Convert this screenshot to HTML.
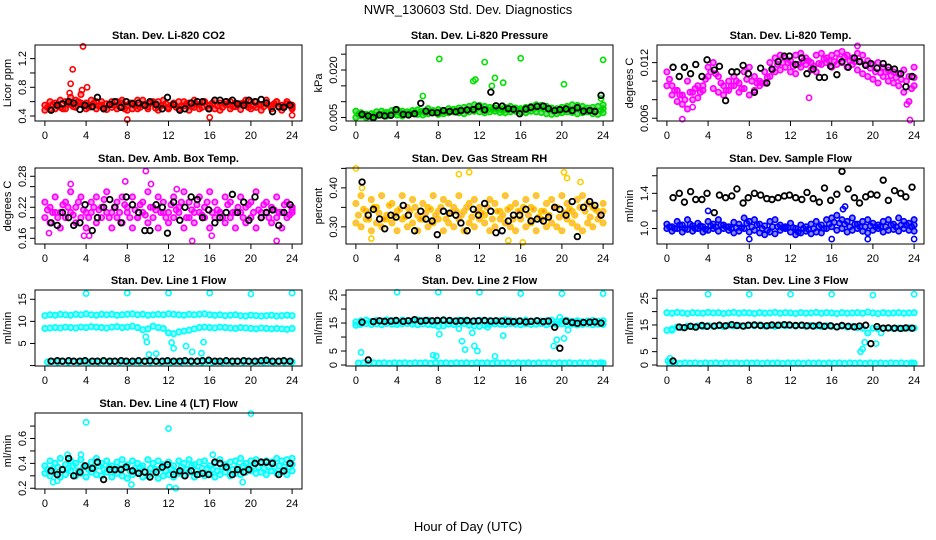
<!DOCTYPE html>
<html><head><meta charset="utf-8"><title>NWR_130603 Std. Dev. Diagnostics</title>
<style>
html,body{margin:0;padding:0;background:#fff;}
svg{display:block;font-family:"Liberation Sans",Arial,sans-serif;}
</style></head>
<body>
<svg id="chart" width="936" height="540" viewBox="0 0 936 540">
<text x="468" y="14" text-anchor="middle" font-size="13">NWR_130603 Std. Dev. Diagnostics</text>
<text x="468" y="531" text-anchor="middle" font-size="13">Hour of Day (UTC)</text>
</svg>
<script>
const blackHours=[0.6,1.2,1.7,2.3,2.8,3.4,3.9,4.6,5.1,5.7,6.3,6.8,7.4,7.9,8.5,9.1,9.7,10.2,10.8,11.4,11.9,12.5,13.1,13.6,14.2,14.8,15.3,15.9,16.5,17.0,17.6,18.2,18.7,19.3,19.8,20.4,21.0,21.5,22.1,22.7,23.2,23.8];
const xTicks=[0,4,8,12,16,20,24];

// CO2
const co2BandA=[0.55,0.5,0.58,0.52,0.6,0.56,0.62,0.7,0.58,0.53,0.6,0.55,0.57,0.52,0.6,0.58,0.55,0.5,0.62,0.56,0.53,0.58,0.6,0.55,0.52,0.57,0.6,0.54,0.58,0.52,0.56,0.6,0.55,0.5,0.58,0.56,0.6,0.53,0.57,0.55,0.6,0.52,0.56,0.58,0.54,0.6,0.55,0.57,0.52];
const co2BandB=[0.48,0.6,0.5,0.62,0.5,0.66,0.52,0.58,0.5,0.62,0.5,0.6,0.49,0.6,0.5,0.62,0.48,0.58,0.5,0.62,0.5,0.6,0.48,0.62,0.5,0.58,0.5,0.6,0.48,0.62,0.5,0.6,0.5,0.62,0.48,0.6,0.5,0.58,0.49,0.62,0.5,0.6,0.48,0.62,0.5,0.6,0.48,0.6,0.5];
const co2BandM=[0.52,0.56,0.54,0.5,0.57,0.53,0.6,0.55,0.52,0.58,0.54,0.51,0.56,0.55,0.53,0.5,0.58,0.54,0.52,0.55,0.58,0.51,0.54,0.57,0.55,0.52,0.54,0.57,0.53,0.56,0.52,0.55,0.58,0.54,0.52,0.56,0.53,0.55,0.58,0.52,0.54,0.56,0.53,0.55,0.57,0.52,0.54,0.56,0.55];
const co2OutHours=[2.5,2.7,2.4,3.7,4.1,8.0,16.0,24,3.6];
const co2OutValues=[0.85,1.05,0.72,1.37,0.8,0.35,0.38,0.41,0.76];
const co2Black=[0.48,0.55,0.57,0.6,0.58,0.49,0.55,0.53,0.66,0.5,0.56,0.6,0.52,0.6,0.57,0.58,0.55,0.6,0.56,0.5,0.66,0.56,0.48,0.5,0.58,0.6,0.6,0.5,0.62,0.62,0.6,0.62,0.57,0.55,0.62,0.6,0.63,0.58,0.46,0.53,0.52,0.55];

// Pressure
const prBandA=[0.007,0.0065,0.006,0.0062,0.0068,0.007,0.0066,0.0072,0.0075,0.007,0.0068,0.0072,0.0074,0.007,0.0078,0.0072,0.0075,0.0072,0.0078,0.0076,0.008,0.0082,0.0085,0.009,0.0088,0.0085,0.0082,0.008,0.0078,0.0082,0.0085,0.008,0.0078,0.0082,0.0085,0.009,0.0088,0.0085,0.008,0.0078,0.0082,0.0085,0.009,0.0088,0.0085,0.008,0.0082,0.0085,0.009];
const prBandB=[0.005,0.0055,0.005,0.0052,0.0055,0.0058,0.0055,0.006,0.0058,0.0055,0.006,0.0062,0.006,0.0058,0.0062,0.0065,0.006,0.0062,0.0065,0.0068,0.0065,0.0062,0.0068,0.007,0.0068,0.0065,0.0068,0.007,0.0066,0.0065,0.0068,0.007,0.0068,0.0065,0.007,0.0068,0.0066,0.0062,0.006,0.0062,0.0065,0.0068,0.0066,0.0062,0.0065,0.0068,0.0062,0.006,0.0065];
const prBandM=[0.006,0.006,0.0055,0.0058,0.006,0.0063,0.006,0.0066,0.0066,0.0062,0.0064,0.0067,0.0067,0.0064,0.007,0.0068,0.0068,0.0067,0.0071,0.0072,0.0072,0.0072,0.0076,0.008,0.0078,0.0075,0.0075,0.0075,0.0072,0.0074,0.0076,0.0075,0.0073,0.0074,0.0078,0.0079,0.0077,0.0074,0.007,0.007,0.0074,0.0076,0.0078,0.0075,0.0075,0.0074,0.0072,0.0072,0.0078];
const prOutHours=[8.1,12.5,16,24,11.4,11.6,13.5,13.2,14.3,6.5,20.2,23.8];
const prOutValues=[0.0235,0.0225,0.0237,0.0232,0.0165,0.017,0.0175,0.015,0.016,0.0118,0.0155,0.011];
const prBlack=[0.006,0.0055,0.005,0.0058,0.0055,0.0057,0.0075,0.006,0.0058,0.0062,0.0095,0.007,0.0065,0.0065,0.0072,0.0069,0.0068,0.0072,0.0074,0.0075,0.0085,0.0074,0.013,0.0087,0.0086,0.0078,0.0076,0.0062,0.0077,0.0082,0.0085,0.0086,0.0078,0.0072,0.0075,0.0077,0.0072,0.0081,0.007,0.0072,0.0069,0.012];

// Li-820 Temp
const tpBandA=[0.011,0.0095,0.009,0.0085,0.01,0.008,0.0095,0.009,0.0115,0.012,0.0105,0.0095,0.01,0.0105,0.0098,0.011,0.0115,0.0105,0.0095,0.011,0.012,0.0125,0.0128,0.0125,0.0122,0.0128,0.013,0.0125,0.012,0.0128,0.013,0.0125,0.0128,0.013,0.0132,0.0128,0.0125,0.013,0.0128,0.0122,0.0118,0.012,0.0115,0.0112,0.011,0.0108,0.0112,0.0105,0.0115];
const tpBandB=[0.0095,0.0085,0.0078,0.0075,0.007,0.0088,0.0082,0.0095,0.0105,0.0092,0.0088,0.0085,0.009,0.0095,0.0088,0.0092,0.0085,0.009,0.01,0.0098,0.0105,0.011,0.0112,0.0115,0.011,0.0108,0.0115,0.0118,0.0112,0.011,0.0118,0.012,0.0115,0.0118,0.012,0.0115,0.0118,0.0112,0.0108,0.0105,0.0102,0.0098,0.0105,0.01,0.0098,0.0095,0.0088,0.0078,0.0095];
const tpBandM=[0.0102,0.009,0.0085,0.008,0.0088,0.0092,0.0088,0.0102,0.011,0.0108,0.0098,0.009,0.0095,0.01,0.0092,0.0102,0.01,0.0098,0.0098,0.0104,0.0112,0.0118,0.012,0.012,0.0116,0.0118,0.0122,0.0122,0.0116,0.0119,0.0124,0.0122,0.0121,0.0124,0.0126,0.0122,0.0121,0.0121,0.0118,0.0114,0.011,0.0109,0.011,0.0106,0.0104,0.0102,0.01,0.0092,0.0104];
const tpOutHours=[1.5,23.6,2.5,13.8,18.5,23.3];
const tpOutValues=[0.0059,0.0058,0.0072,0.0082,0.0138,0.0075];
const tpBlack=[0.0115,0.0105,0.0115,0.0108,0.0118,0.0105,0.0123,0.0112,0.0116,0.0079,0.011,0.011,0.0117,0.0108,0.0088,0.0114,0.0098,0.0113,0.0121,0.0127,0.0127,0.0118,0.0125,0.0108,0.0113,0.0104,0.0104,0.0116,0.0107,0.0121,0.0115,0.0125,0.0121,0.0117,0.0119,0.0114,0.0119,0.0115,0.0113,0.0108,0.0094,0.0105];

// Amb box temp
const abBandA=[0.23,0.22,0.24,0.21,0.23,0.25,0.22,0.24,0.21,0.23,0.24,0.22,0.25,0.21,0.23,0.24,0.22,0.24,0.2,0.23,0.25,0.22,0.24,0.23,0.21,0.24,0.22,0.25,0.23,0.21,0.24,0.22,0.25,0.23,0.21,0.24,0.23,0.21,0.24,0.22,0.23,0.25,0.21,0.23,0.22,0.24,0.21,0.23,0.22];
const abBandB=[0.2,0.19,0.21,0.18,0.2,0.21,0.19,0.2,0.18,0.21,0.19,0.2,0.21,0.18,0.2,0.19,0.21,0.18,0.2,0.21,0.19,0.2,0.18,0.21,0.19,0.2,0.21,0.18,0.2,0.19,0.21,0.2,0.18,0.2,0.21,0.19,0.2,0.18,0.21,0.19,0.2,0.18,0.2,0.21,0.19,0.2,0.18,0.2,0.21];
const abBandM=[0.215,0.21,0.2,0.225,0.22,0.205,0.23,0.215,0.2,0.22,0.215,0.235,0.2,0.22,0.21,0.225,0.2,0.215,0.225,0.205,0.22,0.215,0.21,0.2,0.225,0.215,0.23,0.2,0.215,0.225,0.205,0.23,0.21,0.215,0.2,0.225,0.21,0.22,0.2,0.225,0.21,0.215,0.225,0.2,0.215,0.21,0.225,0.205,0.215];
const abOutHours=[0.4,4.3,7.8,9.8,10.3,14.3,16.2,22.5,3.8,2.5,12.8];
const abOutValues=[0.17,0.165,0.27,0.29,0.265,0.155,0.165,0.155,0.165,0.265,0.255];
const abBlack=[0.19,0.185,0.21,0.2,0.185,0.19,0.225,0.175,0.2,0.22,0.235,0.22,0.19,0.24,0.225,0.21,0.175,0.175,0.225,0.22,0.17,0.23,0.195,0.22,0.24,0.235,0.2,0.215,0.19,0.2,0.21,0.245,0.21,0.23,0.195,0.24,0.2,0.21,0.215,0.185,0.21,0.225];

// Gas stream RH
const rhBandA=[0.36,0.38,0.34,0.37,0.35,0.38,0.33,0.36,0.34,0.38,0.35,0.37,0.33,0.36,0.35,0.38,0.34,0.37,0.36,0.35,0.38,0.34,0.36,0.37,0.35,0.33,0.37,0.36,0.34,0.38,0.35,0.36,0.34,0.37,0.35,0.38,0.34,0.36,0.37,0.35,0.38,0.36,0.34,0.37,0.38,0.36,0.35,0.34,0.36];
const rhBandB=[0.31,0.3,0.32,0.29,0.31,0.3,0.32,0.31,0.29,0.32,0.3,0.31,0.29,0.32,0.3,0.31,0.32,0.29,0.31,0.3,0.32,0.29,0.31,0.3,0.32,0.31,0.29,0.3,0.32,0.31,0.3,0.29,0.32,0.3,0.31,0.29,0.32,0.3,0.31,0.3,0.29,0.32,0.31,0.3,0.29,0.31,0.3,0.32,0.31];
const rhBandM=[0.33,0.345,0.32,0.35,0.335,0.32,0.355,0.33,0.345,0.325,0.34,0.35,0.32,0.335,0.345,0.33,0.35,0.32,0.335,0.34,0.33,0.35,0.325,0.34,0.335,0.35,0.32,0.34,0.33,0.345,0.32,0.34,0.35,0.33,0.345,0.325,0.34,0.33,0.35,0.325,0.335,0.345,0.33,0.35,0.34,0.325,0.345,0.33,0.34];
const rhOutHours=[0,10,11,20.2,20.5,14.8,16.2,21.8,0.6,1.5];
const rhOutValues=[0.45,0.435,0.44,0.44,0.425,0.265,0.26,0.415,0.4,0.27];
const rhBlack=[0.415,0.33,0.345,0.32,0.295,0.33,0.325,0.355,0.33,0.29,0.34,0.32,0.315,0.28,0.34,0.335,0.33,0.31,0.29,0.345,0.33,0.36,0.34,0.285,0.29,0.315,0.33,0.33,0.345,0.315,0.32,0.315,0.325,0.35,0.345,0.33,0.365,0.275,0.35,0.365,0.355,0.33];

// Sample flow
const sfBandA=[1.05,1.02,1.08,1.04,1.1,1.03,1.06,1.02,1.08,1.05,1.1,1.04,1.02,1.07,1.05,1.12,1.08,1.1,1.05,1.03,1.08,1.1,1.04,1.02,1.06,1.0,1.04,1.02,1.05,1.08,1.04,1.1,1.12,1.15,1.1,1.08,1.12,1.05,1.08,1.1,1.06,1.04,1.08,1.1,1.05,1.12,1.08,1.06,1.1];
const sfBandB=[1.0,0.97,1.0,0.96,0.99,0.97,1.0,0.96,0.98,1.0,0.97,1.0,0.98,0.95,0.97,1.0,0.96,0.98,0.95,0.93,0.96,0.94,0.98,1.0,0.96,0.93,0.95,0.97,0.94,0.96,0.95,1.0,1.02,0.98,1.0,0.96,0.98,1.0,0.97,0.95,0.98,1.0,0.96,0.98,0.99,0.97,1.0,0.98,0.97];
const sfBandM=[1.02,1.0,1.04,1.0,1.05,1.0,1.03,0.99,1.03,1.02,1.04,1.02,1.0,1.01,1.01,1.06,1.02,1.04,1.0,0.98,1.02,1.02,1.01,1.01,1.01,0.96,1.0,0.99,1.0,1.02,1.0,1.05,1.07,1.06,1.05,1.02,1.05,1.02,1.02,1.03,1.02,1.02,1.02,1.04,1.02,1.04,1.04,1.02,1.04];
const sfOutHours=[4,8,16,17.3,19.5,24,17.1];
const sfOutValues=[1.2,0.88,0.88,1.25,0.88,0.88,1.22];
const sfBlack=[1.35,1.4,1.3,1.42,1.33,1.33,1.4,1.18,1.38,1.35,1.37,1.45,1.29,1.35,1.4,1.38,1.34,1.33,1.35,1.37,1.38,1.35,1.33,1.41,1.34,1.3,1.46,1.32,1.39,1.65,1.45,1.35,1.29,1.36,1.39,1.38,1.55,1.32,1.43,1.4,1.36,1.47];

// Line 1 flow
const l1BandA=[11.3,11.5,11.4,11.6,11.5,11.4,11.6,11.5,11.7,11.5,11.4,11.6,11.5,11.6,11.4,11.5,11.6,11.7,11.5,11.6,11.4,11.5,11.6,11.5,11.7,11.6,11.5,11.4,11.6,11.5,11.6,11.7,11.5,11.4,11.5,11.3,11.4,11.5,11.3,11.2,11.4,11.3,11.2,11.3,11.4,11.2,11.3,11.4,11.3];
const l1BandB=[8.4,8.5,8.6,8.5,8.7,8.6,8.5,8.7,8.6,8.8,8.7,8.6,8.5,8.7,8.8,8.6,8.7,8.9,8.6,8.1,8.3,8.9,8.6,8.4,7.4,7.2,7.6,7.8,8.0,8.3,8.6,8.7,8.6,8.5,8.7,8.6,8.5,8.4,8.6,8.5,8.4,8.3,8.5,8.4,8.3,8.4,8.3,8.2,8.4];
const l1BandC=[0.8,0.9,0.8,0.9,0.8,0.9,0.8,0.9,0.8,0.9,0.8,0.9,0.8,0.9,0.8,0.9,0.8,0.9,0.8,0.9,0.8,0.9,0.8,0.9,0.8,0.9,0.8,0.9,0.8,0.9,0.8,0.9,0.8,0.9,0.8,0.9,0.8,0.9,0.8,0.9,0.8,0.9,0.8,0.9,0.8,0.9,0.8,0.9,0.8];
const l1OutHours=[4,8,12,16,20,24,9.8,10.1,10.8,12.3,12.5,13.7,14.3,15.2,15.4,9.9];
const l1OutValues=[16.3,16.4,16.4,16.4,16.2,16.4,6.5,2.5,2.7,5.2,3.9,4.4,3.1,2.8,5.3,5.3];
const l1Black=[1.0,1.1,1.0,1.1,1.0,1.0,1.1,1.0,1.0,1.1,1.0,1.0,1.1,1.0,1.0,1.1,1.0,1.1,1.0,1.0,1.1,1.0,1.0,1.1,1.0,1.0,1.1,1.2,1.0,1.0,1.1,1.0,1.0,1.1,1.0,1.0,1.1,1.2,1.0,1.0,1.1,1.0];

// Line 2 flow
const l2BandA=[15.4,15.8,16.0,15.6,15.9,15.7,16.1,15.8,15.6,16.0,15.9,15.7,16.1,15.8,16.0,15.6,15.9,16.2,15.8,15.7,16.0,15.9,15.6,15.8,16.0,15.7,15.9,15.6,15.8,16.1,15.9,15.7,15.8,16.0,15.6,15.9,15.7,15.8,16.0,15.5,15.7,15.9,15.6,15.8,15.5,15.7,15.9,15.6,15.8];
const l2BandB=[14.2,14.6,14.8,14.5,14.7,14.4,14.8,14.6,14.5,14.7,14.8,14.6,14.4,14.7,14.5,14.3,13.8,14.0,14.6,14.5,14.7,14.8,14.2,14.0,13.8,14.2,14.5,14.7,14.6,14.5,14.8,14.6,14.4,14.7,14.5,14.6,14.8,14.4,14.6,14.5,14.7,14.4,14.6,14.3,14.5,14.7,14.4,14.6,14.5];
const l2BandC=[0.7,0.8,0.6,0.8,0.7,0.8,0.6,0.8,0.7,0.8,0.6,0.8,0.7,0.8,0.6,0.8,0.7,0.8,0.6,0.8,0.7,0.8,0.6,0.8,0.7,0.8,0.6,0.8,0.7,0.8,0.6,0.8,0.7,0.8,0.6,0.8,0.7,0.8,0.6,0.8,0.7,0.8,0.6,0.8,0.7,0.8,0.6,0.8,0.7];
const l2OutHours=[4,8,12,16,20,24,0.5,0.4,8.1,7.5,7.8,10,10.3,10.6,11.5,11.8,11.3,13.5,14.3,19.2,19.5,19.8,20.2,20.4,20.6,12.8];
const l2OutValues=[26,26,26,25.5,25.5,25.5,4.5,14.5,11,3.5,3.2,13,8.5,5.5,6.8,5,11.5,3.1,10.5,6.8,9,17,9.5,16,12.5,13.5];
const l2Black=[15.3,1.8,15.5,15.8,15.6,15.7,15.9,15.6,15.8,16.2,15.7,15.9,15.8,15.9,16,15.9,15.7,15.8,15.9,15.7,15.8,15.9,15.7,15.8,15.7,15.6,15.5,15.7,15.4,15.6,15.8,15.5,15.7,13.5,6.0,15.6,15.2,14.9,15.2,15.3,15.4,15.0];

// Line 3 flow
const l3BandA=[19.6,19.4,19.7,19.5,19.3,19.6,19.5,19.4,19.7,19.5,19.6,19.3,19.5,19.7,19.4,19.6,19.5,19.3,19.6,19.4,19.5,19.7,19.4,19.6,19.5,19.3,19.6,19.4,19.5,19.7,19.4,19.6,19.5,19.3,19.6,19.4,19.5,19.6,19.4,19.8,19.5,19.3,19.6,19.4,19.5,19.6,19.4,19.5,19.6];
const l3BandB=[13.0,13.5,14.2,14.0,14.5,14.3,14.6,14.4,14.8,14.5,14.7,14.4,14.9,14.6,14.8,14.5,14.9,14.7,15.0,14.6,14.8,14.5,14.9,14.7,14.8,14.6,14.9,14.5,14.8,14.6,14.4,14.7,14.5,14.3,14.6,14.2,14.4,14.0,13.8,12.0,13.8,13.5,13.7,13.9,13.6,13.8,13.7,13.9,13.8];
const l3BandC=[0.7,0.8,0.6,0.8,0.7,0.8,0.6,0.8,0.7,0.8,0.6,0.8,0.7,0.8,0.6,0.8,0.7,0.8,0.6,0.8,0.7,0.8,0.6,0.8,0.7,0.8,0.6,0.8,0.7,0.8,0.6,0.8,0.7,0.8,0.6,0.8,0.7,0.8,0.6,0.8,0.7,0.8,0.6,0.8,0.7,0.8,0.6,0.8,0.7];
const l3OutHours=[4,8,12,16,20,24,0.3,0.5,18.8,19.0,19.2,20.3,20.8,0.1];
const l3OutValues=[26.5,26.5,26.5,26.5,26.2,26.5,2.5,13,5,6,8.5,8,12,1.5];
const l3Black=[1.5,14.2,14.0,14.5,14.2,14.8,14.5,14.6,14.9,14.7,15.1,14.8,14.6,14.9,15.0,14.8,14.7,15.0,14.9,15.1,15.0,14.8,14.9,14.7,14.6,14.9,14.5,14.7,14.3,14.8,14.5,14.3,14.6,14.9,8.0,14.4,13.8,13.9,13.8,13.7,13.9,13.8];

// Line 4 flow
const l4BandA=[0.38,0.42,0.4,0.44,0.39,0.42,0.4,0.43,0.38,0.41,0.44,0.4,0.42,0.38,0.41,0.43,0.39,0.42,0.4,0.38,0.43,0.4,0.42,0.39,0.41,0.38,0.42,0.4,0.43,0.39,0.41,0.42,0.38,0.4,0.43,0.39,0.41,0.42,0.44,0.4,0.42,0.43,0.4,0.42,0.41,0.44,0.42,0.43,0.44];
const l4BandB=[0.32,0.3,0.33,0.29,0.31,0.34,0.3,0.32,0.29,0.33,0.31,0.3,0.33,0.29,0.32,0.3,0.28,0.31,0.33,0.29,0.3,0.32,0.28,0.3,0.31,0.29,0.32,0.3,0.33,0.29,0.31,0.3,0.32,0.29,0.31,0.33,0.3,0.32,0.31,0.33,0.34,0.32,0.33,0.31,0.34,0.32,0.33,0.31,0.34];
const l4BandM=[0.35,0.36,0.37,0.35,0.36,0.38,0.34,0.37,0.35,0.36,0.38,0.35,0.37,0.34,0.36,0.37,0.34,0.36,0.37,0.33,0.36,0.35,0.36,0.34,0.36,0.33,0.37,0.35,0.38,0.34,0.36,0.36,0.35,0.34,0.37,0.36,0.35,0.37,0.38,0.36,0.38,0.37,0.36,0.37,0.37,0.38,0.37,0.37,0.39];
const l4OutHours=[4,12,20,0.8,8.4,12.1,12.7,16.3,3.5,2.2,1.2,19.2];
const l4OutValues=[0.73,0.68,0.8,0.25,0.23,0.21,0.2,0.47,0.47,0.47,0.26,0.25];
const l4Black=[0.34,0.31,0.35,0.44,0.3,0.33,0.38,0.36,0.41,0.27,0.35,0.35,0.35,0.37,0.34,0.32,0.33,0.29,0.33,0.37,0.39,0.31,0.34,0.3,0.34,0.31,0.32,0.31,0.41,0.4,0.37,0.31,0.35,0.33,0.35,0.4,0.41,0.41,0.4,0.31,0.34,0.4];

// Tick values
const co2Ticks=[0.4,0.6,0.8,1.0,1.2], co2Labels=["0.4","","0.8","","1.2"];
const prTicks=[0.005,0.010,0.015,0.020,0.025], prLabels=["0.005","","","0.020",""];
const tpTicks=[0.006,0.008,0.010,0.012], tpLabels=["0.006","","","0.012"];
const abTicks=[0.16,0.18,0.20,0.22,0.24,0.26,0.28], abLabels=["0.16","","","0.22","","","0.28"];
const rhTicks=[0.30,0.35,0.40,0.45], rhLabels=["0.30","","0.40",""];
const sfTicks=[1.0,1.2,1.4,1.6], sfLabels=["1.0","","1.4",""];
const l1Ticks=[0,5,10,15], l1Labels=["","5","10","15"];
const l2Ticks=[0,5,10,15,20,25], l2Labels=["0","5","","15","","25"];
const l3Ticks=[0,5,10,15,20,25], l3Labels=["0","5","","15","","25"];
const l4Ticks=[0.2,0.3,0.4,0.5,0.6,0.7], l4Labels=["0.2","","0.4","","0.6",""];

const NS="http://www.w3.org/2000/svg";
const svg=document.getElementById('chart');
const colLeft=[35,346,657], rowTop=[45,168,290,413], BW=267, BH=76;

const panels=[
 {key:'co2',title:'Stan. Dev. Li-820 CO2',ylab:'Licor ppm',c:0,r:0,dom:[0.33,1.39],ticks:co2Ticks,labels:co2Labels,col:'#ff0000',fill:'#ff0000',bands:[co2BandA,co2BandB,co2BandM],oh:co2OutHours,ov:co2OutValues,blk:co2Black},
 {key:'pressure',title:'Stan. Dev. Li-820 Pressure',ylab:'kPa',c:1,r:0,dom:[0.0039,0.0279],ticks:prTicks,labels:prLabels,col:'#00e000',fill:'#00a000',bands:[prBandA,prBandB,prBandM],oh:prOutHours,ov:prOutValues,blk:prBlack},
 {key:'li820-temp',title:'Stan. Dev. Li-820 Temp.',ylab:'degrees C',c:2,r:0,dom:[0.0057,0.0139],ticks:tpTicks,labels:tpLabels,col:'#ff00ff',fill:'#ff00ff',bands:[tpBandA,tpBandB,tpBandM],oh:tpOutHours,ov:tpOutValues,blk:tpBlack},
 {key:'amb-temp',title:'Stan. Dev. Amb. Box Temp.',ylab:'degrees C',c:0,r:1,dom:[0.149,0.296],ticks:abTicks,labels:abLabels,col:'#ff00ff',fill:'#ff00ff',bands:[abBandA,abBandB,abBandM],oh:abOutHours,ov:abOutValues,blk:abBlack},
 {key:'rh',title:'Stan. Dev. Gas Stream RH',ylab:'percent',c:1,r:1,dom:[0.256,0.451],ticks:rhTicks,labels:rhLabels,col:'#ffcc00',fill:'#ff5a00',bands:[rhBandA,rhBandB,rhBandM],oh:rhOutHours,ov:rhOutValues,blk:rhBlack},
 {key:'sample-flow',title:'Stan. Dev. Sample Flow',ylab:'ml/min',c:2,r:1,dom:[0.824,1.688],ticks:sfTicks,labels:sfLabels,col:'#0000ff',fill:'#0000ff',bands:[sfBandA,sfBandB,sfBandM],oh:sfOutHours,ov:sfOutValues,blk:sfBlack},
 {key:'line1',title:'Stan. Dev. Line 1 Flow',ylab:'ml/min',c:0,r:2,dom:[-0.1,17.1],ticks:l1Ticks,labels:l1Labels,col:'#00ffff',fill:'#00ffff',bands:[l1BandA,l1BandB,l1BandC],oh:l1OutHours,ov:l1OutValues,blk:l1Black},
 {key:'line2',title:'Stan. Dev. Line 2 Flow',ylab:'ml/min',c:1,r:2,dom:[-0.35,26.8],ticks:l2Ticks,labels:l2Labels,col:'#00ffff',fill:'#00ffff',bands:[l2BandA,l2BandB,l2BandC],oh:l2OutHours,ov:l2OutValues,blk:l2Black},
 {key:'line3',title:'Stan. Dev. Line 3 Flow',ylab:'ml/min',c:2,r:2,dom:[-0.37,28.1],ticks:l3Ticks,labels:l3Labels,col:'#00ffff',fill:'#00ffff',bands:[l3BandA,l3BandB,l3BandC],oh:l3OutHours,ov:l3OutValues,blk:l3Black},
 {key:'line4',title:'Stan. Dev. Line 4 (LT) Flow',ylab:'ml/min',c:0,r:3,dom:[0.194,0.805],ticks:l4Ticks,labels:l4Labels,col:'#00ffff',fill:'#00ffff',bands:[l4BandA,l4BandB,l4BandM],oh:l4OutHours,ov:l4OutValues,blk:l4Black}
];

function mk(tag,attrs,parent){const e=document.createElementNS(NS,tag);for(const k in attrs)e.setAttribute(k,attrs[k]);parent.appendChild(e);return e;}

panels.forEach(p=>{
  const L=colLeft[p.c], T=rowTop[p.r];
  const g=mk('g',{},svg);
  
  
  const xs=h=>L+(h+0.96)/25.92*BW;
  const ys=v=>T+BH-(v-p.dom[0])/(p.dom[1]-p.dom[0])*BH;
  const t=mk('text',{x:L+BW/2,y:T-6,'text-anchor':'middle','font-size':11,'font-weight':'bold'},g);
  t.textContent=p.title;
  
  
  const pts=mk('g',{},g);
  
  
  p.bands.forEach((band,bi)=>{
    const off=(bi===2)?0.25:0;
    band.forEach((v,i)=>{
      const h=Math.min(24,i*0.5+off);
      const c=mk('circle',{cx:xs(h),cy:ys(v),r:2.7,fill:p.fill,'fill-opacity':0.45,stroke:p.col,'stroke-width':1.7},pts);
      
      
    });
  });
  p.oh.forEach((h,i)=>{
    const c=mk('circle',{cx:xs(h),cy:ys(p.ov[i]),r:2.6,fill:'none',stroke:p.col,'stroke-width':1.6},pts);
    
    
  });
  p.blk.forEach((v,i)=>{
    const c=mk('circle',{cx:xs(blackHours[i]),cy:ys(v),r:2.8,fill:'none',stroke:'#000','stroke-width':1.8},pts);
    
    
  });
  const box=mk('rect',{x:L,y:T,width:BW,height:BH,fill:'none',stroke:'#000','stroke-width':1},g);
  
  
  const xa=mk('g',{},g);
  
  
  mk('line',{x1:xs(0),x2:xs(24),y1:T+BH,y2:T+BH,stroke:'#000'},xa);
  xTicks.forEach(h=>{
    mk('line',{x1:xs(h),x2:xs(h),y1:T+BH,y2:T+BH+5,stroke:'#000'},xa);
    const lt=mk('text',{x:xs(h),y:T+BH+18,'text-anchor':'middle','font-size':11},xa);
    lt.textContent=h;
    
    
  });
  const ya=mk('g',{},g);
  
  
  mk('line',{x1:L,x2:L,y1:ys(p.ticks[0]),y2:ys(p.ticks[p.ticks.length-1]),stroke:'#000'},ya);
  p.ticks.forEach((v,i)=>{
    const y=ys(v);
    mk('line',{x1:L-5,x2:L,y1:y,y2:y,stroke:'#000'},ya);
    if(p.labels[i]){
      const lt=mk('text',{x:L-9,y:y,'text-anchor':'middle','font-size':11,transform:`rotate(-90 ${L-9} ${y})`},ya);
      lt.textContent=p.labels[i];
      
      
    }
  });
  const yl=mk('text',{x:L-24,y:T+BH/2,'text-anchor':'middle','font-size':11,transform:`rotate(-90 ${L-24} ${T+BH/2})`},g);
  yl.textContent=p.ylab;
  
  
});
</script>
</body></html>
